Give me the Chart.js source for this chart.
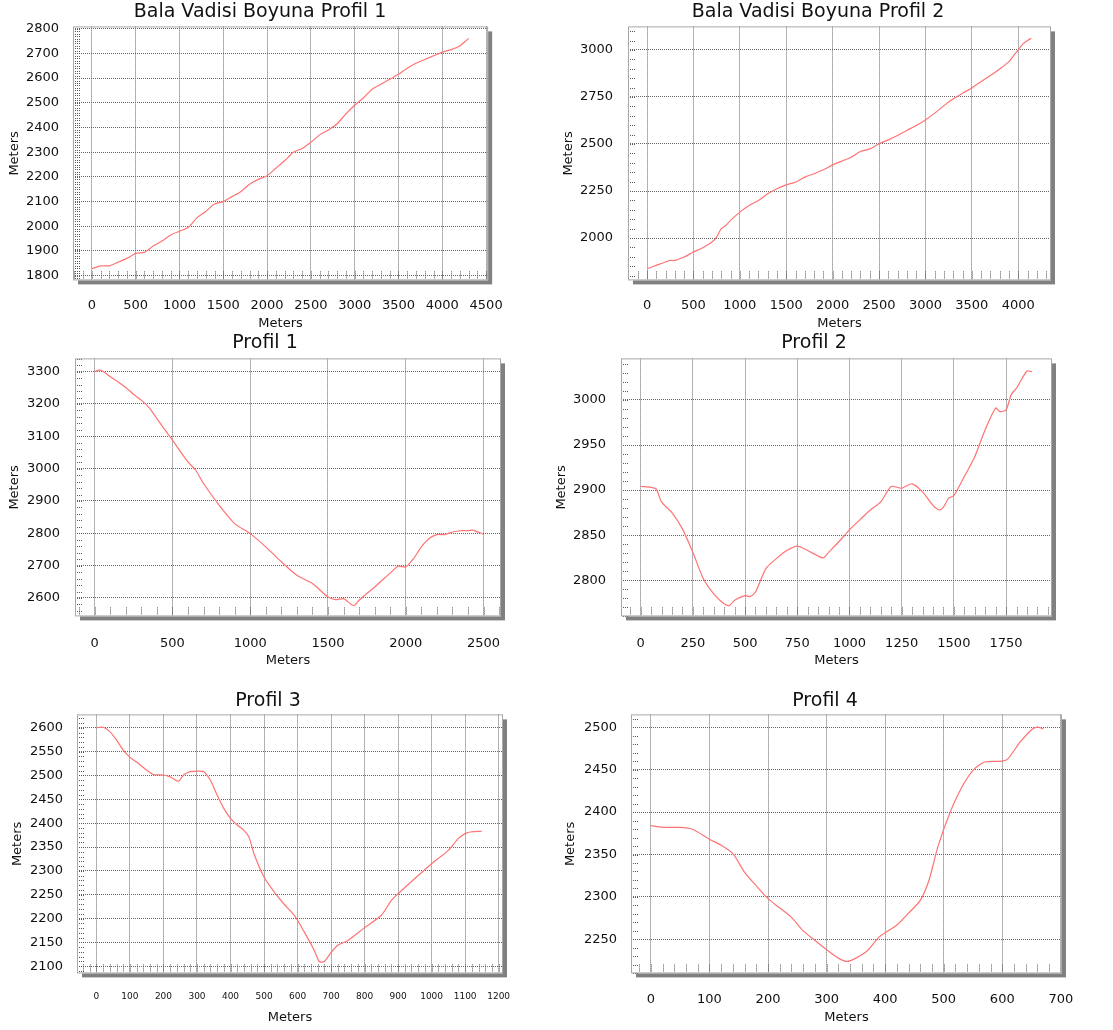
<!DOCTYPE html>
<html>
<head>
<meta charset="utf-8">
<script src="https://cdn.jsdelivr.net/npm/chart.js@4.4.0/dist/chart.umd.min.js"></script>
<style>
html, body { margin: 0; background: #fff; }
body { width: 1113px; height: 1030px; position: relative; overflow: hidden; }
.panel { position: absolute; }
</style>
</head>
<body>
<div class="panel" id="p1"><canvas id="c1"></canvas></div>
<div class="panel" id="p2"><canvas id="c2"></canvas></div>
<div class="panel" id="p3"><canvas id="c3"></canvas></div>
<div class="panel" id="p4"><canvas id="c4"></canvas></div>
<div class="panel" id="p5"><canvas id="c5"></canvas></div>
<div class="panel" id="p6"><canvas id="c6"></canvas></div>
<script>
// Bala Vadisi Boyuna Profil 1
const bv1Dist = [0, 100, 200, 300, 400, 500, 600, 700, 800, 900, 1000, 1100, 1200, 1300, 1400, 1500, 1600, 1700, 1800, 1900, 2000, 2100, 2200, 2300, 2400, 2500, 2600, 2700, 2800, 2900, 3000, 3100, 3200, 3300, 3400, 3500, 3600, 3700, 3800, 3900, 4000, 4100, 4200, 4250, 4300];
const bv1Elev = [1828, 1840, 1840, 1855, 1870, 1890, 1895, 1920, 1940, 1965, 1980, 1995, 2035, 2060, 2090, 2100, 2120, 2140, 2170, 2190, 2205, 2235, 2265, 2300, 2315, 2340, 2370, 2390, 2415, 2455, 2490, 2520, 2555, 2575, 2595, 2615, 2640, 2660, 2675, 2690, 2705, 2715, 2730, 2745, 2760];
const bv1XTicks = [0, 500, 1000, 1500, 2000, 2500, 3000, 3500, 4000, 4500];
const bv1YTicks = [1800, 1900, 2000, 2100, 2200, 2300, 2400, 2500, 2600, 2700, 2800];

// Bala Vadisi Boyuna Profil 2
const bv2Dist = [0, 100, 200, 250, 300, 400, 500, 600, 700, 750, 800, 850, 900, 1000, 1100, 1200, 1300, 1400, 1500, 1600, 1700, 1800, 1900, 2000, 2100, 2200, 2300, 2400, 2500, 2600, 2700, 2800, 2900, 3000, 3100, 3200, 3300, 3400, 3500, 3600, 3700, 3800, 3900, 3950, 4000, 4050, 4100, 4140];
const bv2Elev = [1837, 1855, 1873, 1881, 1881, 1899, 1926, 1949, 1979, 2005, 2050, 2067, 2094, 2138, 2173, 2200, 2235, 2262, 2283, 2297, 2324, 2342, 2363, 2389, 2409, 2430, 2460, 2474, 2501, 2522, 2545, 2572, 2598, 2628, 2664, 2704, 2740, 2770, 2798, 2832, 2864, 2899, 2938, 2970, 3000, 3032, 3050, 3062];
const bv2XTicks = [0, 500, 1000, 1500, 2000, 2500, 3000, 3500, 4000];
const bv2YTicks = [2000, 2250, 2500, 2750, 3000];

// Profil 1
const pr1Dist = [0, 30, 50, 100, 200, 250, 300, 350, 400, 500, 600, 650, 700, 800, 900, 1000, 1100, 1200, 1300, 1400, 1450, 1500, 1550, 1600, 1650, 1670, 1700, 1800, 1900, 1950, 2000, 2050, 2100, 2150, 2200, 2250, 2300, 2350, 2400, 2430, 2500];
const pr1Elev = [3300, 3305, 3302, 3285, 3251, 3230, 3212, 3189, 3155, 3088, 3021, 2995, 2954, 2887, 2830, 2799, 2758, 2712, 2670, 2645, 2624, 2603, 2595, 2598, 2580, 2577, 2593, 2634, 2677, 2698, 2696, 2722, 2758, 2784, 2796, 2796, 2804, 2808, 2808, 2810, 2797];
const pr1XTicks = [0, 500, 1000, 1500, 2000, 2500];
const pr1YTicks = [2600, 2700, 2800, 2900, 3000, 3100, 3200, 3300];

// Profil 2
const pr2Dist = [0, 50, 75, 100, 150, 200, 250, 300, 350, 400, 425, 450, 500, 525, 550, 600, 650, 700, 750, 800, 850, 875, 900, 950, 1000, 1050, 1100, 1150, 1200, 1250, 1300, 1350, 1400, 1430, 1450, 1475, 1500, 1550, 1600, 1650, 1700, 1720, 1750, 1775, 1800, 1850, 1875];
const pr2Elev = [2904, 2903, 2901, 2887, 2875, 2857, 2831, 2802, 2785, 2774, 2772, 2778, 2783, 2782, 2787, 2813, 2824, 2833, 2838, 2833, 2827, 2825, 2831, 2843, 2856, 2867, 2878, 2887, 2904, 2902, 2907, 2898, 2883, 2878, 2881, 2891, 2894, 2915, 2937, 2967, 2991, 2987, 2989, 3006, 3013, 3032, 3031];
const pr2XTicks = [0, 250, 500, 750, 1000, 1250, 1500, 1750];
const pr2YTicks = [2800, 2850, 2900, 2950, 3000];

// Profil 3
const pr3Dist = [0, 20, 40, 60, 80, 100, 120, 150, 170, 200, 220, 245, 260, 280, 300, 320, 340, 360, 380, 400, 420, 440, 455, 470, 500, 530, 560, 590, 620, 650, 665, 680, 700, 720, 750, 800, 850, 880, 900, 950, 1000, 1050, 1080, 1100, 1120, 1150];
const pr3Elev = [2600, 2601, 2592, 2574, 2553, 2538, 2528, 2511, 2502, 2501, 2497, 2488, 2501, 2508, 2509, 2508, 2490, 2459, 2431, 2410, 2396, 2385, 2371, 2336, 2287, 2256, 2230, 2207, 2172, 2133, 2110, 2110, 2129, 2144, 2154, 2181, 2207, 2238, 2252, 2284, 2315, 2343, 2368, 2378, 2382, 2383];
const pr3XTicks = [0, 100, 200, 300, 400, 500, 600, 700, 800, 900, 1000, 1100, 1200];
const pr3YTicks = [2100, 2150, 2200, 2250, 2300, 2350, 2400, 2450, 2500, 2550, 2600];

// Profil 4
const pr4Dist = [0, 20, 50, 70, 100, 120, 140, 160, 180, 200, 220, 240, 260, 280, 300, 320, 335, 350, 370, 390, 420, 440, 460, 475, 490, 510, 530, 550, 570, 600, 610, 630, 650, 660, 670];
const pr4Elev = [2384, 2382, 2382, 2380, 2368, 2361, 2351, 2329, 2313, 2298, 2287, 2276, 2260, 2249, 2238, 2228, 2224, 2228, 2237, 2253, 2267, 2281, 2296, 2320, 2359, 2398, 2428, 2449, 2459, 2460, 2463, 2482, 2497, 2500, 2498];
const pr4XTicks = [0, 100, 200, 300, 400, 500, 600, 700];
const pr4YTicks = [2250, 2300, 2350, 2400, 2450, 2500];

const FONT = 'DejaVu Sans';
Chart.defaults.font.family = FONT;
Chart.defaults.color = '#111';

// page layout of each panel (page pixels)
const panels = [
  { id: 1, title: 'Bala Vadisi Boyuna Profil 1', dist: bv1Dist, elev: bv1Elev, xTicks: bv1XTicks, yTicks: bv1YTicks,
    xMin: -215, xMax: 4523, yMin: 1781, yMax: 2809, left: 0, titleX: 260, titleY: 12,
    plot: [73, 26, 491, 280], yLabR: 59, yTitX: 15, xLabY: 305, xTitY: 323, xFont: 13, minorX: 100, minorY: 10 },
  { id: 2, title: 'Bala Vadisi Boyuna Profil 2', dist: bv2Dist, elev: bv2Elev, xTicks: bv2XTicks, yTicks: bv2YTicks,
    xMin: -205, xMax: 4353, yMin: 1775, yMax: 3125, left: 556, titleX: 818, titleY: 12,
    plot: [628, 26, 1051, 280], yLabR: 613, yTitX: 569, xLabY: 305, xTitY: 323, xFont: 13, minorX: 100, minorY: 50 },
  { id: 3, title: 'Profil 1', dist: pr1Dist, elev: pr1Elev, xTicks: pr1XTicks, yTicks: pr1YTicks,
    xMin: -126, xMax: 2612, yMin: 2543, yMax: 3341, left: 0, titleX: 265, titleY: 343,
    plot: [75, 358, 501, 616], yLabR: 60, yTitX: 15, xLabY: 643, xTitY: 660, xFont: 13, minorX: 100, minorY: 20 },
  { id: 4, title: 'Profil 2', dist: pr2Dist, elev: pr2Elev, xTicks: pr2XTicks, yTicks: pr2YTicks,
    xMin: -94, xMax: 1970, yMin: 2760, yMax: 3046, left: 556, titleX: 814, titleY: 343,
    plot: [621, 358, 1052, 616], yLabR: 606, yTitX: 562, xLabY: 643, xTitY: 660, xFont: 13, minorX: 50, minorY: 10 },
  { id: 5, title: 'Profil 3', dist: pr3Dist, elev: pr3Elev, xTicks: pr3XTicks, yTicks: pr3YTicks,
    xMin: -58, xMax: 1213, yMin: 2085, yMax: 2628, left: 0, titleX: 268, titleY: 701,
    plot: [77, 714, 503, 973], yLabR: 63, yTitX: 18, xLabY: 996, xTitY: 1017, xFont: 9, minorX: 20, minorY: 10 },
  { id: 6, title: 'Profil 4', dist: pr4Dist, elev: pr4Elev, xTicks: pr4XTicks, yTicks: pr4YTicks,
    xMin: -34, xMax: 702, yMin: 2210, yMax: 2515, left: 556, titleX: 825, titleY: 701,
    plot: [631, 714, 1062, 973], yLabR: 617, yTitX: 571, xLabY: 999, xTitY: 1017, xFont: 13, minorX: 20, minorY: 10 }
];

// plot frame with drop shadow and the small inner minor ticks
const framePlugin = {
  id: 'frame',
  beforeDraw(chart, args, opts) {
    const { ctx, chartArea: a } = chart;
    ctx.save();
    ctx.fillStyle = '#808080';
    ctx.fillRect(a.left + 5, a.top + 5, a.right - a.left - 1, a.bottom - a.top - 1);
    ctx.fillStyle = '#fff';
    ctx.fillRect(a.left, a.top, a.right - a.left, a.bottom - a.top);
    ctx.restore();
  },
  beforeDatasetsDraw(chart, args, opts) {
    const { ctx, chartArea: a, scales: { x, y } } = chart;
    ctx.save();
    ctx.strokeStyle = '#555';
    ctx.lineWidth = 1;
    ctx.setLineDash([1, 1]);
    ctx.beginPath();
    for (let v = Math.ceil(y.min / opts.minorY) * opts.minorY; v <= y.max; v += opts.minorY) {
      const py = Math.round(y.getPixelForValue(v)) + 0.5;
      ctx.moveTo(a.left + 2, py);
      ctx.lineTo(a.left + 8, py);
    }
    for (let v = Math.ceil(x.min / opts.minorX) * opts.minorX; v <= x.max; v += opts.minorX) {
      const px = Math.round(x.getPixelForValue(v)) + 0.5;
      ctx.moveTo(px, a.bottom - 2);
      ctx.lineTo(px, a.bottom - 9);
    }
    ctx.stroke();
    ctx.restore();
  },
  afterDraw(chart) {
    const { ctx, chartArea: a } = chart;
    ctx.save();
    ctx.strokeStyle = '#a8a8a8';
    ctx.lineWidth = 1;
    ctx.strokeRect(a.left + 0.5, a.top + 0.5, a.right - a.left - 1, a.bottom - a.top - 1);
    ctx.restore();
  }
};

const TITLE_SIZE = 19;
const AXIS_SIZE = 13;
const plain = v => String(v);

panels.forEach(p => {
  const [pl, pt, pr, pb] = p.plot;
  const top = p.titleY - TITLE_SIZE * 0.6;
  const width = 2 * (p.titleX - p.left);      // title is centred on the panel
  const rightGap = width - (pr - p.left);     // empty strip right of the plot
  const height = p.xTitY + AXIS_SIZE * 0.6 - top;

  const div = document.getElementById('p' + p.id);
  div.style.left = p.left + 'px';
  div.style.top = top + 'px';
  div.style.width = width + 'px';
  div.style.height = height + 'px';

  new Chart(document.getElementById('c' + p.id), {
    type: 'line',
    data: {
      datasets: [{
        data: p.dist.map((d, i) => ({ x: d, y: p.elev[i] })),
        borderColor: 'rgb(255,115,115)',
        borderWidth: 1.2,
        pointRadius: 0,
        tension: 0.25,
        fill: false
      }]
    },
    options: {
      responsive: true,
      maintainAspectRatio: false,
      animation: false,
      layout: { padding: 0 },
      plugins: {
        legend: { display: false },
        tooltip: { enabled: false },
        title: {
          display: true,
          text: p.title,
          color: '#111',
          font: { size: TITLE_SIZE, weight: 'normal' },
          padding: { top: 0, bottom: (pt - top) - TITLE_SIZE * 1.2 }
        },
        frame: { minorX: p.minorX, minorY: p.minorY }
      },
      scales: {
        x: {
          type: 'linear',
          min: p.xMin,
          max: p.xMax,
          afterBuildTicks: s => { s.ticks = p.xTicks.map(v => ({ value: v })); },
          afterFit: s => { s.height = (top + height) - pb; },
          ticks: { font: { size: p.xFont }, color: '#111', padding: p.xLabY - pb - p.xFont * 0.6,
                   maxRotation: 0, autoSkip: false, callback: plain },
          grid: { color: '#666', drawTicks: false },
          border: { display: false, dash: [1, 1] },
          title: { display: true, text: 'Meters', color: '#111', font: { size: AXIS_SIZE }, padding: { top: 0, bottom: 0 } }
        },
        y: {
          type: 'linear',
          min: p.yMin,
          max: p.yMax,
          afterBuildTicks: s => { s.ticks = p.yTicks.map(v => ({ value: v })); },
          afterFit: s => { s.width = pl - p.left; },
          ticks: { font: { size: AXIS_SIZE }, color: '#111', padding: pl - p.yLabR, autoSkip: false, callback: plain },
          grid: { color: '#666', drawTicks: false },
          border: { display: false, dash: [1, 1] },
          title: { display: true, text: 'Meters', color: '#111', font: { size: AXIS_SIZE },
                   padding: { top: p.yTitX - p.left - AXIS_SIZE * 0.6, bottom: 0 } }
        },
        gap: {
          type: 'linear',
          position: 'right',
          display: true,
          afterFit: s => { s.width = rightGap; },
          ticks: { display: false },
          grid: { display: false },
          border: { display: false }
        }
      }
    },
    plugins: [framePlugin]
  });
});
</script>
</body>
</html>
